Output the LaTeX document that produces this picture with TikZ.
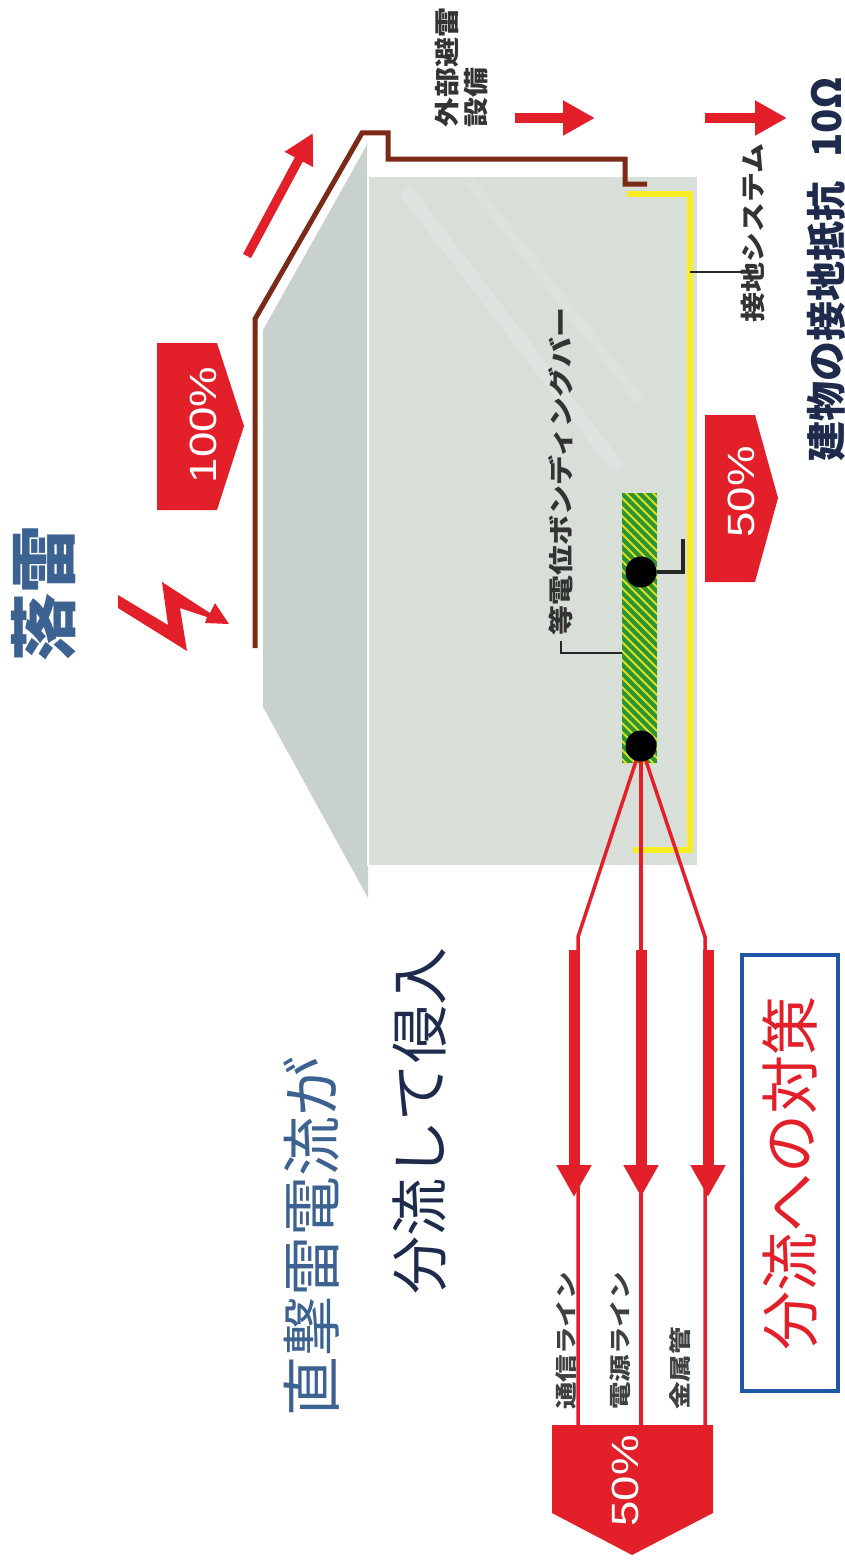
\documentclass[tikz,border=0pt]{standalone}
\usepackage{fontspec}
\setmainfont{Noto Sans CJK JP}
\newfontfamily\pctfont{Liberation Sans}
\usetikzlibrary{arrows.meta, positioning, calc}

\definecolor{boltred}{HTML}{E3202A}
\definecolor{roofbrown}{HTML}{7A2A17}
\definecolor{wallgray}{HTML}{D8DED8}
\definecolor{sidegray}{HTML}{C9D1CC}
\definecolor{earthyellow}{HTML}{F6EE22}
\definecolor{bargreen}{HTML}{2E9430}
\definecolor{titleblue}{HTML}{3C6291}
\definecolor{navy}{HTML}{1E2B4C}
\definecolor{boxblue}{HTML}{2158A6}
\definecolor{labelgray}{HTML}{333333}

\begin{document}
\begin{tikzpicture}[
    x=1pt, y=-1pt,
    vtext/.style={rotate=90, inner sep=0pt},
    tag/.style={vtext, xscale=1.2, font=\fontsize{25}{29}\selectfont\bfseries, text=labelgray},
    linetag/.style={vtext, xscale=1.25, anchor=west, font=\fontsize{22}{24}\selectfont\bfseries, text=black!75},
    pct/.style={vtext, xscale=1.2, font=\pctfont\fontsize{38}{40}\selectfont, text=white},
    flag/.style={fill=boltred},
    conductor/.style={draw=roofbrown, line width=5pt, line join=miter},
    earth/.style={draw=earthyellow, line width=6pt},
    wire/.style={draw=boltred, line width=3.5pt},
    redarrow/.style={draw=boltred, line width=10pt, -{Triangle[length=32pt, width=33pt]}},
    lead/.style={draw=black!85, line width=2pt},
    dot/.style={circle, fill=black, minimum size=31pt, inner sep=0pt}
]
    \useasboundingbox (0,0) rectangle (844,1568);

    % --- Building body ---
    \fill[sidegray] (263,330) -- (368,143) -- (368,898) -- (263,707) -- cycle;
    \fill[wallgray] (368,177) rectangle (697,865);
    \draw[white, opacity=0.18, line width=14pt] (405,190) -- (618,468);
    \draw[white, opacity=0.14, line width=10pt] (470,182) -- (640,400);
    \draw[white, line width=2pt] (368,145) -- (368,866);

    % --- Lightning protection conductor ---
    \draw[conductor] (255,648) -- (255,319) -- (362,133) -- (388,133) -- (388,159)
        -- (625,159) -- (625,184) -- (647,184);

    % --- Earthing system ---
    \draw[earth] (627,194) -- (690,194) -- (690,850) -- (633,850);

    % --- Equipotential bonding bar ---
    \fill[bargreen] (622,493) rectangle (657,763);
    \begin{scope}
        \clip (622,493) rectangle (657,763);
        \foreach \k in {0,...,36}
            \draw[earthyellow!85!bargreen, line width=2pt] (610,450+\k*9) -- ++(60,60);
    \end{scope}

    % --- Shunted current paths ---
    \coordinate (hub) at (641,746);
    \coordinate (bendL) at (578,937);
    \coordinate (bendR) at (705,937);
    \coordinate (footL) at (578,1425);
    \coordinate (footM) at (641,1425);
    \coordinate (footR) at (705,1425);
    \draw[wire] (hub) -- (bendL) -- (footL);
    \draw[wire] (hub) -- (footM);
    \draw[wire] (hub) -- (bendR) -- (footR);
    \foreach \x in {574,641,708}
        \draw[redarrow, line width=11pt] (\x,950) -- (\x,1197);

    \node[dot] (dotTop) at (641,572) {};
    \node[dot] (dotBot) at (hub) {};
    \coordinate (tapTop) at (683,539);
    \draw[lead, line width=4pt] (dotTop.east) -| (tapTop);

    % --- Lightning strike ---
    \fill[boltred] (118,595) -- (168,625) -- (162,582) -- (210,613) -- (215,603)
        -- (229,624) -- (205,623) -- (207,617) -- (180,608) -- (187,651)
        -- (118,608) -- cycle;
    \draw[redarrow, line width=9pt, -{Triangle[length=30pt, width=30pt]}] (247,256) -- (313,133);
    \draw[redarrow] (515,118) -- (595,118);
    \draw[redarrow] (705,118) -- (787,118);

    % --- Percentage flags ---
    \fill[flag] (157,343) -- (217,343) -- (244,426) -- (217,510) -- (157,510) -- cycle;
    \node[pct] (pTop) at (203,425) {100\%};
    \fill[flag] (705,415) -- (755,415) -- (778,498) -- (755,582) -- (705,582) -- cycle;
    \node[pct] (pEarth) at (741,492) {50\%};
    \fill[flag] (552,1425) -- (713,1425) -- (713,1513) -- (632,1555) -- (552,1513) -- cycle;
    \node[pct] (pLines) at (625,1481) {50\%};

    % --- Labels ---
    \node[vtext, font=\fontsize{68}{70}\selectfont\bfseries, text=titleblue] (strike) at (44,593) {落雷};
    \node[tag, anchor=north west, align=left] (lps) at (435,128) {外部避雷\\設備};
    \node[tag, anchor=west] (gnd) at (753,323) {接地システム};
    \node[tag, anchor=west] (bond) at (561,636) {等電位ボンディングバー};
    \node[vtext, anchor=west, font=\fontsize{40}{44}\selectfont\bfseries, text=navy] (resist) at (826,462)
        {建物の接地抵抗\hspace{0.6em}10Ω};
    \node[vtext, font=\fontsize{60}{64}\selectfont, text=titleblue] (direct) at (312,1236) {直撃雷電流が};
    \node[vtext, font=\fontsize{58}{62}\selectfont, text=navy] (shunt) at (420,1121) {分流して侵入};
    \node[vtext, draw=boxblue, line width=4pt, minimum width=436pt, minimum height=96pt,
          font=\fontsize{59}{62}\selectfont, text=boltred] (measure) at (790,1173) {分流への対策};
    \node[linetag] (tel) at (566,1410) {通信ライン};
    \node[linetag] (pwr) at (620,1410) {電源ライン};
    \node[linetag] (pipe) at (680,1410) {金属管};

    % --- Leader lines ---
    \coordinate (gndTap) at (690,272);
    \draw[lead] (gndTap) -- (gndTap -| gnd.north);
    \coordinate (barTap) at (622,653);
    \draw[lead] (barTap) -| ($(bond.west)+(0,5)$);
\end{tikzpicture}
\end{document}
